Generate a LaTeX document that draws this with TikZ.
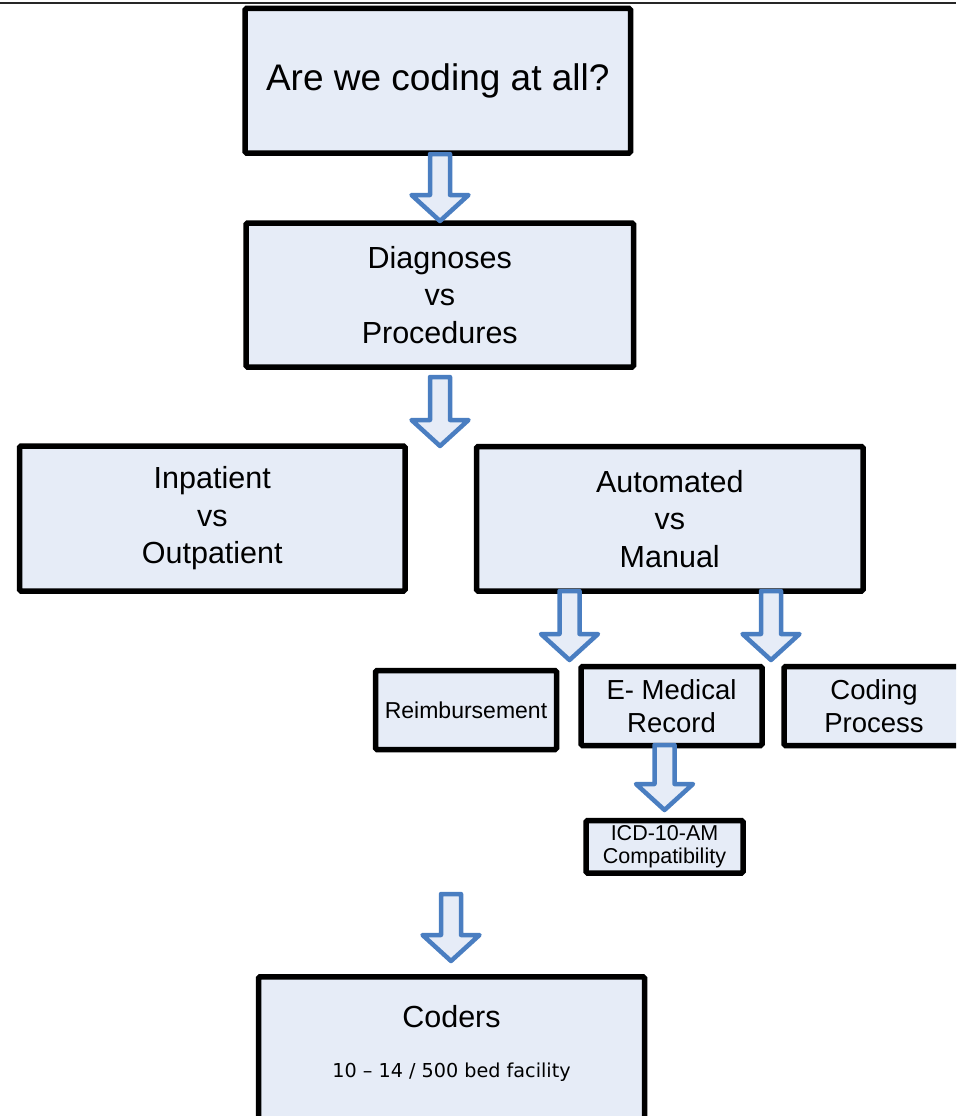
\documentclass[tikz,border=0pt]{standalone}
\usepackage{fontspec}
\setmainfont{Liberation Sans}
\newfontfamily\notefont{DejaVu Sans}
\definecolor{boxfill}{RGB}{230,236,247}
\definecolor{arrowblue}{RGB}{74,126,193}
\tikzset{
  box/.style={draw=black, line width=5.5pt, fill=boxfill, rounded corners=1.5pt,
    inner sep=0pt, align=center, text=black},
  bigtext/.style={font=\fontsize{37}{42}\selectfont},
  midtext/.style={font=\fontsize{30.5}{37.5}\selectfont},
  smalltext/.style={font=\fontsize{27.5}{32.5}\selectfont},
  reimbtext/.style={font=\fontsize{23}{27}\selectfont},
  icdtext/.style={font=\fontsize{21.5}{23}\selectfont},
  notetext/.style={font=\notefont\fontsize{19.2}{23}\selectfont},
  arrowline/.style={draw=arrowblue, fill=boxfill, line width=4.5pt, line join=round},
  pics/blockarrow/.style={code={
    \path[arrowline] (-10,0) -- (-10,#1-26) -- (-28.5,#1-26) -- (0,#1)
      -- (28.5,#1-26) -- (10,#1-26) -- (10,0) -- cycle;}}
}
\begin{document}
\begin{tikzpicture}[x=1pt,y=-1pt]
\path[use as bounding box] (0,0) rectangle (956,1116);
\clip (0,0) rectangle (956,1116);
% top rule
\coordinate (tl) at (0,3);
\coordinate (tr) at (956,3);
\draw[line width=2.5pt, black!85] (tl) -- (tr);
% boxes
\node[box, bigtext, minimum width=385.5, minimum height=144.5] (q1) at (437.75,80.75) {Are we coding at all?};
\node[box, midtext, minimum width=387.5, minimum height=144] (q2) at (439.75,295) {Diagnoses\\vs\\Procedures};
\node[box, midtext, minimum width=385.5, minimum height=145] (inpat) at (212.25,518.5) {Inpatient\\vs\\Outpatient};
\node[box, midtext, minimum width=386.5, minimum height=144.5] (auto) at (669.75,518.75) {Automated\\vs\\Manual};
\node[box, reimbtext, minimum width=181, minimum height=79] (reimb) at (466,710) {Reimbursement};
\node[box, smalltext, minimum width=181, minimum height=79] (emr) at (671.5,706) {E- Medical\\Record};
\node[box, smalltext, minimum width=180, minimum height=79] (codproc) at (874,706) {Coding\\Process};
\node[box, icdtext, minimum width=157, minimum height=52.5] (icd) at (664.5,846.75) {ICD-10-AM\\Compatibility};
\node[box, minimum width=386, minimum height=200, anchor=north] (coders) at (451.5,974) {};
\node[midtext] (coderstitle) at (451.5,1017) {Coders};
\node[notetext] (codersnote) at (451.5,1072) {10 – 14 / 500 bed facility};
% block arrows
\coordinate (a1) at (440,154);
\coordinate (a2) at (440,377);
\coordinate (a3) at (569.5,591);
\coordinate (a4) at (771,591);
\coordinate (a5) at (664.5,745);
\coordinate (a6) at (451,894);
\pic at (a1) {blockarrow=67};
\pic at (a2) {blockarrow=69};
\pic at (a3) {blockarrow=69};
\pic at (a4) {blockarrow=69};
\pic at (a5) {blockarrow=65};
\pic at (a6) {blockarrow=67};
\end{tikzpicture}
\end{document}
